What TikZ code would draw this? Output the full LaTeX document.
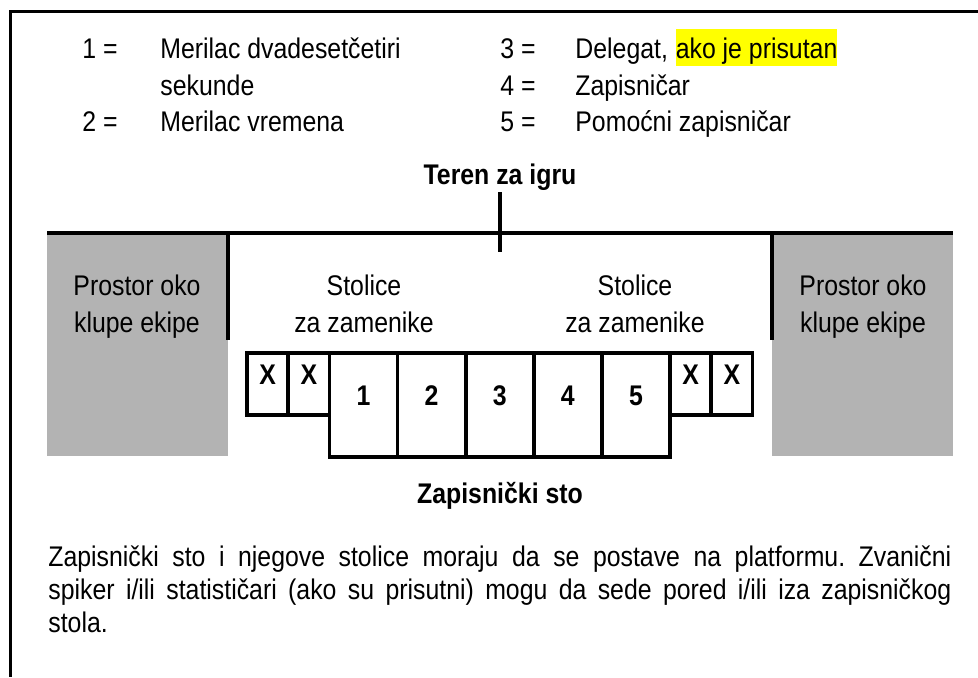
\documentclass[tikz,border=0pt]{standalone}
\usepackage{fontspec}
\setmainfont{Liberation Sans}[FakeStretch=0.875]
\usepackage{xcolor}
\usepackage{tikz}
\usetikzlibrary{calc}
\definecolor{bench}{HTML}{B3B3B3}
\definecolor{hilite}{HTML}{FFFF00}
\tikzset{
  pageline/.style={draw=black, line width=1.5pt},
  line/.style={draw=black, line width=1.6pt},
  seat/.style={draw=black, line width=1.8pt},
  lbl/.style={inner sep=0pt, font=\fontsize{14.2}{18.5}\selectfont},
  blbl/.style={inner sep=0pt, font=\fontsize{14.2}{18.5}\selectfont\bfseries},
  para/.style={inner sep=0pt, font=\fontsize{14.2}{16.5}\selectfont, text width=451.5pt, align=justify}
}
\begin{document}
\begin{tikzpicture}[x=0.5pt, y=-0.5pt]
  \useasboundingbox (0,0) rectangle (978,677);
  \draw[pageline] (978,11) -- (10,11) -- (10,677);

  % legend
  \node[lbl, anchor=base west] (k1) at (82,58) {1 =};
  \node[lbl, anchor=base west] (v1) at (160,58) {Merilac dvadesetčetiri};
  \node[lbl, anchor=base west] (v1b) at (160,95) {sekunde};
  \node[lbl, anchor=base west] (k2) at (82,131) {2 =};
  \node[lbl, anchor=base west] (v2) at (160,131) {Merilac vremena};
  \node[lbl, anchor=base west] (k3) at (500,58) {3 =};
  \node[lbl, anchor=base west] (v3) at (575,58) {Delegat,};
  \node[lbl, anchor=base west, fill=hilite, text height=14.5pt, text depth=4pt] (v3b) at ([xshift=3.5pt]v3.base east) {ako je prisutan};
  \node[lbl, anchor=base west] (k4) at (500,95) {4 =};
  \node[lbl, anchor=base west] (v4) at (575,95) {Zapisničar};
  \node[lbl, anchor=base west] (k5) at (500,131) {5 =};
  \node[lbl, anchor=base west] (v5) at (575,131) {Pomoćni zapisničar};

  % field and benches
  \node[blbl, anchor=base] (teren) at (500,184) {Teren za igru};
  \coordinate (tick) at (500,252);
  \fill[bench] (47,233) rectangle (228,456);
  \fill[bench] (772,233) rectangle (953,456);
  \draw[line] (47,233) -- (953,233);
  \draw[line] (228,233) -- (228,340);
  \draw[line] (772,233) -- (772,340);
  \draw[line] ([yshift=-1pt]teren.south) -- (tick);

  \node[lbl, anchor=base, align=center] (benchL) at (137,332) {Prostor oko\\klupe ekipe};
  \node[lbl, anchor=base, align=center] (benchR) at (863,332) {Prostor oko\\klupe ekipe};
  \node[lbl, anchor=base, align=center] (subsL) at (364,332) {Stolice\\za zamenike};
  \node[lbl, anchor=base, align=center] (subsR) at (635,332) {Stolice\\za zamenike};

  % scorer's table
  \foreach \i in {0,1} {
    \draw[seat] (247+41.25*\i,353) rectangle ++(41.25,62);
    \draw[seat] (670+41.25*\i,353) rectangle ++(41.25,62);
    \node[blbl, anchor=base] (xl\i) at (267.6+41.25*\i,384) {X};
    \node[blbl, anchor=base] (xr\i) at (690.6+41.25*\i,384) {X};
  }
  \foreach \n in {1,...,5} {
    \draw[seat] (329.5+68.1*\n-68.1,353) rectangle ++(68.1,104);
    \node[blbl, anchor=base] (s\n) at (363.5+68.1*\n-68.1,405) {\n};
  }
  \node[blbl, anchor=base] (sto) at (500,503) {Zapisnički sto};

  \node[para, anchor=base west] (note) at (48,566) {\frenchspacing\hyphenpenalty=10000
    Zapisnički sto i njegove stolice moraju da se postave na platformu. Zvanični\linebreak
    spiker i/ili statističari (ako su prisutni) mogu da sede pored i/ili iza zapisničkog\linebreak
    stola.};
\end{tikzpicture}
\end{document}
